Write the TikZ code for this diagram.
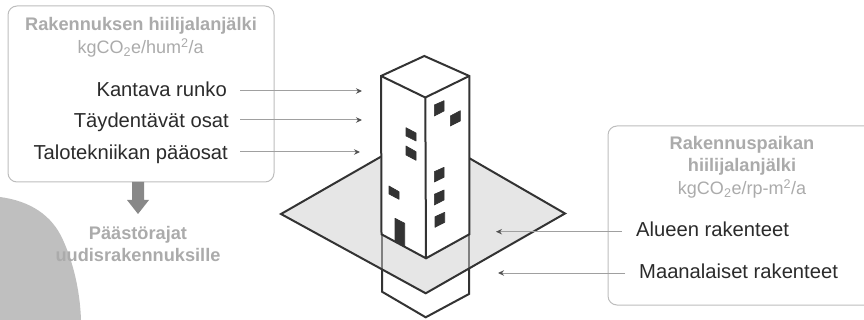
\documentclass[tikz,border=0pt]{standalone}
\usepackage{fontspec}
\setmainfont{Liberation Sans}
\usetikzlibrary{arrows.meta}
\definecolor{boxline}{HTML}{BDBDBD}
\definecolor{headtext}{HTML}{ABABAB}
\definecolor{bodytext}{HTML}{2B2B2B}
\definecolor{blobgrey}{HTML}{BFBFBF}
\definecolor{plotfill}{HTML}{E6E6E6}
\definecolor{inkline}{HTML}{333333}
\definecolor{arrowline}{HTML}{A0A0A0}
\tikzset{
  infobox/.style={draw=boxline,line width=1pt,rounded corners=9pt,fill=white},
  headlabel/.style={anchor=base,inner sep=0pt,text=headtext,font=\fontsize{18.2}{21}\selectfont\bfseries},
  unitlabel/.style={anchor=base,inner sep=0pt,text=headtext,font=\fontsize{18}{21}\selectfont},
  itemlabel/.style={inner sep=0pt,text=bodytext,font=\fontsize{20.2}{24}\selectfont},
  leader/.style={draw=arrowline,line width=1pt,-{Stealth[length=6pt,width=5.5pt,color=inkline!85]}},
  ink/.style={draw=inkline,line width=2pt,line join=miter},
  hole/.style={fill=inkline,draw=inkline,line width=0.6pt,line join=round},
}
\begin{document}
\begin{tikzpicture}[x=1pt,y=-1pt]
\useasboundingbox (0,0) rectangle (864,320);
% grey blob
\fill[blobgrey] (0,197) .. controls (30,201) and (52,215) .. (63,240) .. controls (73,262) and (80,290) .. (81,320) -- (0,320) -- cycle;
% boxes
\draw[infobox] (8,6) rectangle (274,182);
\draw[infobox] (608,126) rectangle (880,305);
% thick arrow
\fill[arrowline!85!black] (132,182) -- (144,182) -- (144,200) -- (149,200) -- (138,214) -- (127,200) -- (132,200) -- cycle;
% plot
\coordinate (pl) at (281,214);
\coordinate (pt) at (424,132);
\coordinate (pr) at (565,213.5);
\coordinate (pb) at (425.7,293.3);
\fill[plotfill] (pl) -- (pt) -- (pr) -- (pb) -- cycle;
% underground, seen through the plot
\coordinate (gl) at (382,234);
\coordinate (gr) at (469,234);
\coordinate (gml) at (382,269.5);
\coordinate (gmr) at (469,268.5);
\coordinate (gbl) at (382,291.7);
\coordinate (gbr) at (469,294);
\coordinate (gb) at (425.7,317.3);
\draw[draw=arrowline!80!black,line width=1.5pt] (gl) -- (gml);
\draw[draw=arrowline!80!black,line width=1.5pt] (gr) -- (gmr);
\draw[ink] (gml) -- (gbl) -- (gb) -- (gbr) -- (gmr);
\draw[ink] (pl) -- (pt) -- (pr) -- (pb) -- cycle;
% building
\coordinate (tt) at (424.3,56);
\coordinate (tl) at (381,76);
\coordinate (tr) at (469.3,76);
\coordinate (tf) at (425.3,97.5);
\coordinate (bl) at (381.5,234.3);
\coordinate (bf) at (426,258.3);
\coordinate (br) at (469.3,234.3);
\filldraw[ink,fill=white] (tl) -- (tt) -- (tr) -- (br) -- (bf) -- (bl) -- cycle;
\draw[ink] (tl) -- (tf) -- (tr);
\draw[ink] (tf) -- (bf);
% windows, left face
\filldraw[hole] (406,127.7) -- (416,133) -- (416,141) -- (406,136) -- cycle;
\filldraw[hole] (406,146) -- (416,151.7) -- (416,160.3) -- (406,155) -- cycle;
\filldraw[hole] (389,186) -- (399,191.7) -- (399,199.3) -- (389,194) -- cycle;
\filldraw[hole] (395,218.3) -- (404.7,223.3) -- (404.7,246.7) -- (395,241) -- cycle;
% windows, right face
\filldraw[hole] (434.3,105) -- (444,100.7) -- (444,111) -- (434.3,116) -- cycle;
\filldraw[hole] (450.3,116) -- (460.3,110.7) -- (460.3,121) -- (450.3,126) -- cycle;
\filldraw[hole] (434.3,171.7) -- (444,167.3) -- (444,177.3) -- (434.3,182) -- cycle;
\filldraw[hole] (434.3,194.3) -- (444,190) -- (444,200) -- (434.3,205) -- cycle;
\filldraw[hole] (435,216.7) -- (444.7,212.3) -- (444.7,222.3) -- (435,227.3) -- cycle;
% labels, left
\node[headlabel] (lefthead) at (141,31) {Rakennuksen hiilijalanjälki};
\node[unitlabel] (leftunit) at (140.7,54) {kgCO\textsubscript{2}e/hum\textsuperscript{2}/a};
\node[itemlabel,anchor=base east] (kantava) at (227,97) {Kantava runko};
\node[itemlabel,anchor=base east] (taydentavat) at (229,128) {Täydentävät osat};
\node[itemlabel,anchor=base east] (talotek) at (228,160) {Talotekniikan pääosat};
\node[headlabel] (paasto) at (138,239.5) {Päästörajat};
\node[headlabel] (uudis) at (138,261.5) {uudisrakennuksille};
% labels, right
\node[headlabel] (righthead) at (742,149.5) {Rakennuspaikan};
\node[headlabel] (righthead2) at (742,172) {hiilijalanjälki};
\node[unitlabel] (rightunit) at (742,194.5) {kgCO\textsubscript{2}e/rp-m\textsuperscript{2}/a};
\node[itemlabel,anchor=base west] (alueen) at (636,236.5) {Alueen rakenteet};
\node[itemlabel,anchor=base west] (maan) at (639,278.5) {Maanalaiset rakenteet};
% leaders
\coordinate (a1s) at (240,91); \coordinate (a1e) at (362,91);
\coordinate (a2s) at (240,120); \coordinate (a2e) at (362,120);
\coordinate (a3s) at (240,152); \coordinate (a3e) at (360,152);
\coordinate (a4s) at (621.7,231.7); \coordinate (a4e) at (496,231.7);
\coordinate (a5s) at (625,273); \coordinate (a5e) at (498,273);
\draw[leader] (a1s) -- (a1e);
\draw[leader] (a2s) -- (a2e);
\draw[leader] (a3s) -- (a3e);
\draw[leader] (a4s) -- (a4e);
\draw[leader] (a5s) -- (a5e);
\end{tikzpicture}
\end{document}
